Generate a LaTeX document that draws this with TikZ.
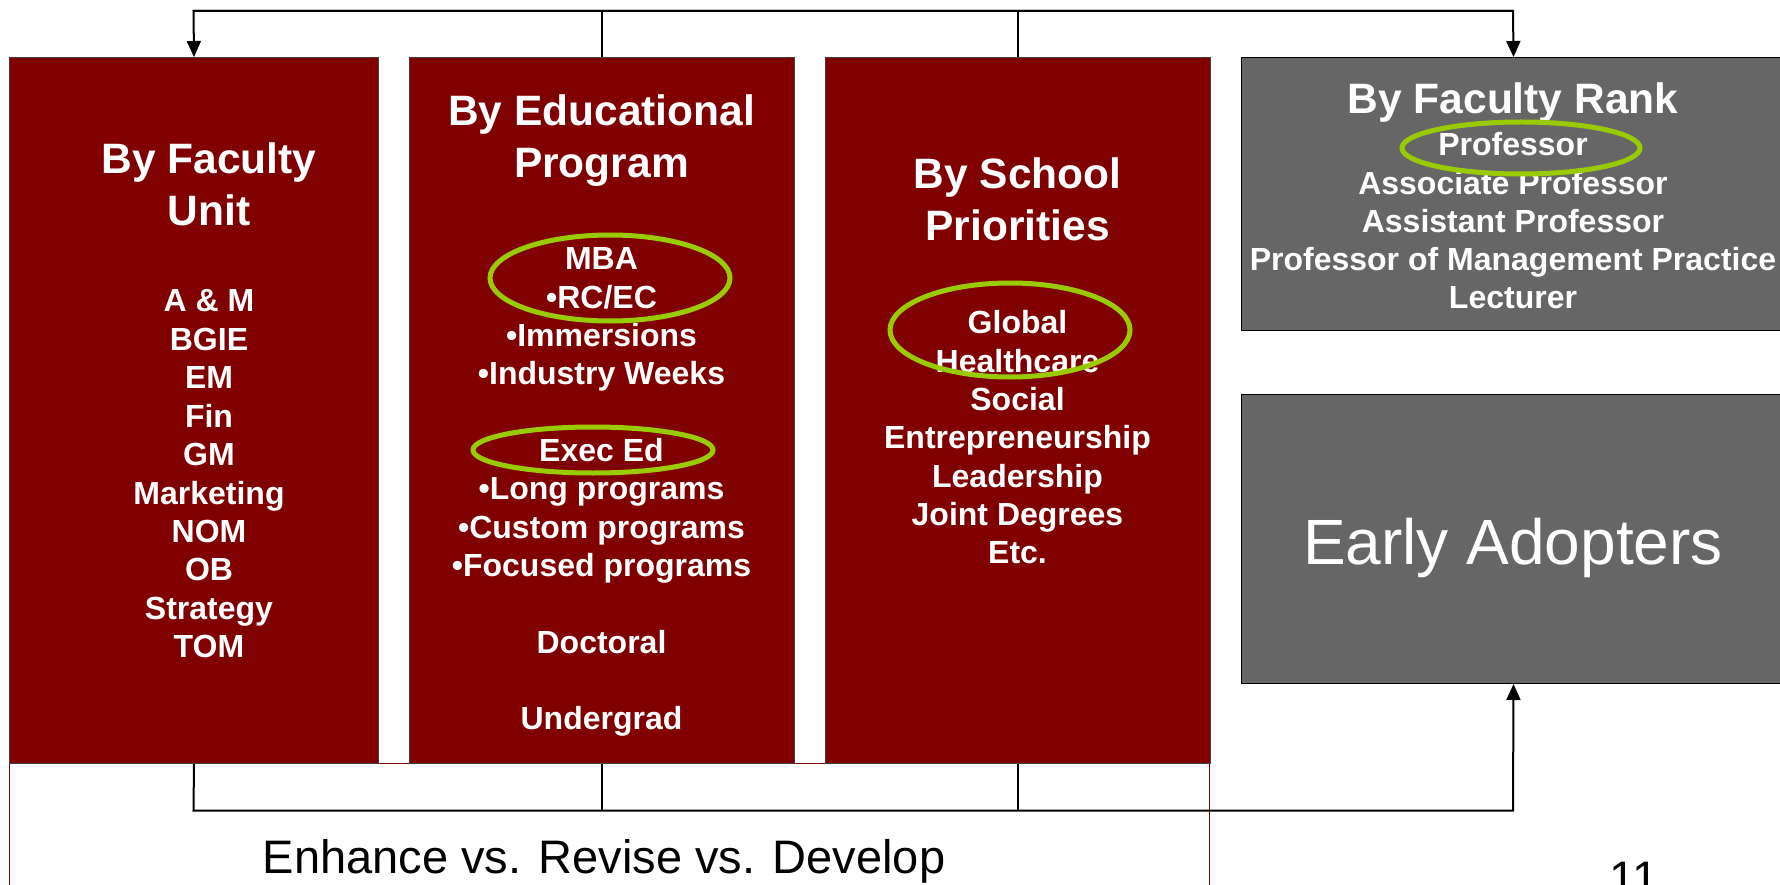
\documentclass[tikz,border=0pt]{standalone}
\usepackage{fontspec}
\setmainfont{Liberation Sans}
\usetikzlibrary{arrows.meta}
\definecolor{boxred}{HTML}{800000}
\definecolor{boxgrey}{HTML}{666666}
\definecolor{hl}{HTML}{99CC00}
\begin{document}
\begin{tikzpicture}[x=1pt,y=-1pt,
  redbox/.style={draw=black!75, line width=1pt, fill=boxred, inner sep=0pt, anchor=north west},
  greybox/.style={draw=black, line width=1pt, fill=boxgrey, inner sep=0pt, anchor=north west},
  ttl/.style={text=white, font=\fontsize{42.5}{50}\selectfont\bfseries, anchor=base, inner sep=0pt},
  itm/.style={text=white, font=\fontsize{32}{38}\selectfont\bfseries, anchor=base, inner sep=0pt},
  big/.style={font=\fontsize{64}{70}\selectfont, anchor=base, inner sep=0pt},
  plain/.style={font=\fontsize{47}{56}\selectfont, anchor=base, inner sep=0pt},
  conn/.style={draw=black, line width=2pt},
  arr/.style={-{Triangle[width=14pt,length=16pt]}},
  hilite/.style={draw=hl, line width=5pt}
]
\path[use as bounding box] (0,0) rectangle (1780,885);
\clip (0,0) rectangle (1780,885);

% lower frame
\node[draw=boxred, line width=1pt, anchor=north west, minimum width=1200pt, minimum height=160pt, inner sep=0pt] (frame) at (9,763) {};

% boxes
\node[redbox, minimum width=369pt, minimum height=706pt] (b1) at (9,57) {};
\node[redbox, minimum width=385pt, minimum height=706pt] (b2) at (409,57) {};
\node[redbox, minimum width=385pt, minimum height=706pt] (b3) at (825,57) {};
\node[greybox, minimum width=544pt, minimum height=273pt] (b4) at (1241,57) {};
\node[greybox, minimum width=544pt, minimum height=289pt] (b5) at (1241,394) {};

% box 1
\node[ttl] (b1t1) at (209,174) {By Faculty};
\node[ttl] (b1t2) at (209,226) {Unit};
\foreach \t [count=\i from 0] in {A \& M, BGIE, EM, Fin, GM, Marketing, NOM, OB, Strategy, TOM}
  \node[itm] (b1i\i) at (209,{312+38.4*\i}) {\t};

% box 2
\node[ttl] (b2t1) at (601.5,126) {By Educational};
\node[ttl] (b2t2) at (601.5,178) {Program};
\node[itm] (b2i0) at (601.5,270) {MBA};
\node[itm] (b2i1) at (601.5,308.3) {•RC/EC};
\node[itm] (b2i2) at (601.5,346.6) {•Immersions};
\node[itm] (b2i3) at (601.5,384.9) {•Industry Weeks};
\node[itm] (b2i5) at (601.5,461.5) {Exec Ed};
\node[itm] (b2i6) at (601.5,499.8) {•Long programs};
\node[itm] (b2i7) at (601.5,538.1) {•Custom programs};
\node[itm] (b2i8) at (601.5,576.4) {•Focused programs};
\node[itm] (b2i10) at (601.5,653) {Doctoral};
\node[itm] (b2i12) at (601.5,729.6) {Undergrad};

% box 3
\node[ttl] (b3t1) at (1017.5,189) {By School};
\node[ttl] (b3t2) at (1017.5,241) {Priorities};
\foreach \t [count=\i from 0] in {Global, Healthcare, Social, Entrepreneurship, Leadership, Joint Degrees, Etc.}
  \node[itm] (b3i\i) at (1017.5,{334+38.3*\i}) {\t};

% box 4
\node[ttl] (b4t) at (1513,114) {By Faculty Rank};
\foreach \t [count=\i from 0] in {Professor, Associate Professor, Assistant Professor, Professor of Management Practice, Lecturer}
  \node[itm] (b4i\i) at (1513,{156+38.2*\i}) {\t};

% box 5
\node[big, text=white] (b5t) at (1513,564) {Early Adopters};

% highlights
\draw[hilite] (610,278) ellipse [x radius=120pt, y radius=43pt];
\draw[hilite] (593,450) ellipse [x radius=120pt, y radius=23pt];
\draw[hilite] (1010,330) ellipse [x radius=120pt, y radius=47pt];
\draw[hilite] (1521,148) ellipse [x radius=119pt, y radius=26pt];

% texts below
\node[plain] (enh) at (604,873) {Enhance vs. Revise vs. Develop};
\node[plain] (pg) at (1634,894) {11};

% top connectors
\coordinate (tl) at (193.5,11);
\coordinate (tr) at (1513,11);
\draw[conn] (b2.north) -- (b2.north |- tl);
\draw[conn] (b3.north) -- (b3.north |- tl);
\draw[conn,arr] (tr) -- (tl) -- (b1.north);
\draw[conn,arr] (tl) -- (tr) -- (b4.north);

% bottom connectors
\coordinate (bl) at (193.5,810.5);
\coordinate (br) at (1513,810.5);
\draw[conn] (b2.south) -- (b2.south |- bl);
\draw[conn] (b3.south) -- (b3.south |- bl);
\draw[conn,arr] (b1.south) -- (bl) -- (br) -- (b5.south);
\end{tikzpicture}
\end{document}
